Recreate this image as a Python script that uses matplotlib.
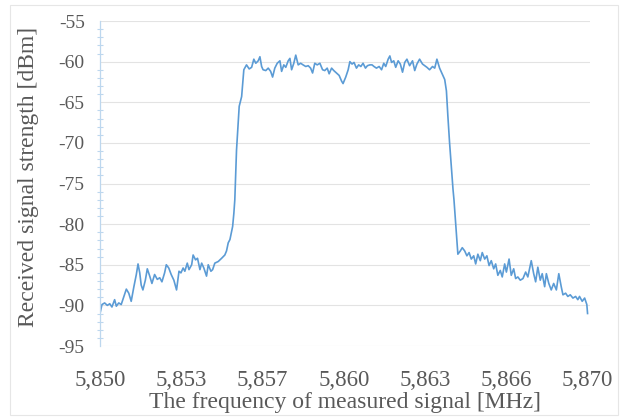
import matplotlib
matplotlib.use("Agg")
import matplotlib.pyplot as plt
from matplotlib.patches import Rectangle
from matplotlib.ticker import MultipleLocator
import numpy as np

# measured spectrum
freq_mhz = [
    5850.00, 5850.08, 5850.19, 5850.30, 5850.40, 5850.49, 5850.60, 5850.67, 5850.77, 5850.87,
    5850.98, 5851.08, 5851.18, 5851.28, 5851.39, 5851.49, 5851.56, 5851.63, 5851.69, 5851.76,
    5851.86, 5851.94, 5852.04, 5852.13, 5852.24, 5852.35, 5852.45, 5852.54, 5852.65, 5852.72,
    5852.82, 5852.92, 5853.03, 5853.14, 5853.24, 5853.32, 5853.41, 5853.48, 5853.58, 5853.65,
    5853.76, 5853.82, 5853.92, 5854.00, 5854.10, 5854.17, 5854.26, 5854.37, 5854.44, 5854.55,
    5854.62, 5854.71, 5854.85, 5854.99, 5855.12, 5855.19, 5855.26, 5855.33, 5855.44, 5855.49,
    5855.53, 5855.60, 5855.71, 5855.81, 5855.90, 5856.01, 5856.12, 5856.22, 5856.31, 5856.39,
    5856.49, 5856.56, 5856.63, 5856.69, 5856.80, 5856.90, 5857.00, 5857.08, 5857.17, 5857.27,
    5857.38, 5857.45, 5857.54, 5857.62, 5857.72, 5857.79, 5857.86, 5857.95, 5858.03, 5858.13,
    5858.23, 5858.33, 5858.44, 5858.54, 5858.64, 5858.72, 5858.81, 5858.91, 5859.02, 5859.13,
    5859.22, 5859.32, 5859.40, 5859.50, 5859.59, 5859.70, 5859.81, 5859.91, 5859.97, 5860.08,
    5860.18, 5860.25, 5860.34, 5860.42, 5860.52, 5860.61, 5860.70, 5860.79, 5860.89, 5860.97,
    5861.07, 5861.16, 5861.24, 5861.34, 5861.45, 5861.55, 5861.64, 5861.72, 5861.82, 5861.89,
    5861.96, 5862.05, 5862.13, 5862.23, 5862.32, 5862.41, 5862.50, 5862.59, 5862.70, 5862.82,
    5862.91, 5863.00, 5863.11, 5863.23, 5863.32, 5863.41, 5863.52, 5863.64, 5863.73, 5863.82,
    5863.93, 5864.05, 5864.14, 5864.21, 5864.27, 5864.34, 5864.41, 5864.48, 5864.52, 5864.59,
    5864.64, 5864.68, 5864.78, 5864.86, 5864.96, 5865.05, 5865.14, 5865.23, 5865.33, 5865.41,
    5865.50, 5865.60, 5865.68, 5865.78, 5865.87, 5865.96, 5866.05, 5866.15, 5866.23, 5866.32,
    5866.42, 5866.50, 5866.60, 5866.67, 5866.78, 5866.87, 5866.97, 5867.05, 5867.14, 5867.24,
    5867.35, 5867.46, 5867.55, 5867.62, 5867.69, 5867.79, 5867.87, 5867.96, 5868.06, 5868.14,
    5868.24, 5868.31, 5868.41, 5868.51, 5868.61, 5868.72, 5868.82, 5868.92, 5868.99, 5869.10,
    5869.19, 5869.29, 5869.40, 5869.51, 5869.60, 5869.67, 5869.78, 5869.88, 5869.97, 5870.00,
]

rssi_dbm = [
    -91.0, -89.9, -89.7, -90.0, -89.8, -90.2, -89.3, -90.1, -89.7, -89.9,
    -88.9, -88.0, -88.5, -89.5, -87.7, -86.2, -84.9, -86.0, -87.5, -88.1,
    -86.9, -85.5, -86.4, -87.3, -86.2, -86.8, -86.6, -87.1, -86.0, -85.0,
    -85.4, -86.2, -86.9, -88.1, -85.8, -86.0, -85.4, -85.8, -84.8, -85.6,
    -85.0, -83.8, -84.4, -84.2, -85.6, -84.8, -85.4, -86.4, -85.0, -85.8,
    -85.6, -84.8, -84.6, -84.2, -83.8, -83.3, -82.3, -81.9, -80.3, -78.7,
    -77.0, -70.9, -65.5, -64.3, -61.0, -60.4, -60.9, -60.7, -59.7, -60.2,
    -59.9, -59.4, -60.6, -61.0, -61.1, -60.8, -61.2, -61.9, -60.8, -60.2,
    -59.9, -61.2, -60.4, -60.7, -59.9, -59.6, -61.0, -60.2, -59.2, -60.4,
    -60.2, -60.4, -60.6, -60.5, -60.8, -61.4, -60.2, -60.4, -60.2, -61.0,
    -61.1, -60.8, -61.5, -60.8, -61.1, -61.4, -61.7, -62.4, -62.7, -61.9,
    -61.0, -60.0, -60.3, -60.1, -60.8, -60.4, -60.6, -60.2, -60.8, -60.5,
    -60.4, -60.4, -60.6, -60.8, -60.6, -61.0, -60.2, -60.6, -59.7, -59.3,
    -60.1, -59.9, -60.7, -59.9, -60.3, -61.3, -60.1, -59.7, -60.5, -59.9,
    -61.1, -60.3, -59.7, -60.3, -60.5, -60.7, -61.0, -60.6, -60.8, -59.7,
    -60.8, -61.6, -62.2, -63.6, -66.7, -70.0, -72.8, -75.7, -77.0, -80.0,
    -82.3, -83.7, -83.3, -82.9, -83.3, -83.9, -83.5, -84.3, -83.9, -84.9,
    -83.7, -84.5, -83.5, -84.3, -83.9, -85.1, -84.5, -85.5, -84.9, -86.3,
    -85.7, -86.5, -84.9, -85.9, -84.3, -86.3, -85.5, -86.7, -86.5, -86.9,
    -86.7, -85.9, -86.5, -85.5, -84.5, -86.1, -87.1, -85.3, -86.9, -86.1,
    -87.7, -86.1, -87.3, -88.1, -87.3, -88.1, -86.1, -87.7, -88.7, -88.5,
    -88.9, -88.7, -89.1, -88.9, -89.3, -88.9, -89.5, -89.1, -89.9, -91.0,
]

x_tick_labels = ["5,850", "5,853", "5,857", "5,860", "5,863", "5,866", "5,870"]
y_ticks = [-95, -90, -85, -80, -75, -70, -65, -60, -55]

text_col = "#595959"
plt.rcParams["font.family"] = ["Liberation Serif", "DejaVu Serif"]

fig = plt.figure(figsize=(6.24, 4.19), dpi=100)
ax = fig.add_axes([100 / 624, 1 - 346 / 419, 490 / 624, 325 / 419])

# thin chart-area frame like the Excel export
fig.patches.append(Rectangle((10 / 624, 4 / 419), 608 / 624, 410 / 419,
                             transform=fig.transFigure, fill=False,
                             edgecolor="#E6E6E6", linewidth=0.8))

ax.plot(freq_mhz, rssi_dbm, color="#5B9BD5", linewidth=1.2)

ax.set_xlim(5850, 5870.1)
ax.set_ylim(-95, -55)
ax.set_xticks(np.linspace(5850, 5870, len(x_tick_labels)))
ax.set_xticklabels(x_tick_labels)
ax.set_yticks(y_ticks)
ax.set_yticklabels([str(v) for v in y_ticks])
ax.yaxis.set_minor_locator(MultipleLocator(1))

ax.grid(True, axis="y", which="major", color="#E3E3E3", linewidth=0.8)
ax.set_axisbelow(True)
for s in ["top", "right", "bottom"]:
    ax.spines[s].set_visible(False)
ax.spines["left"].set_color("#BDD7EE")
ax.spines["left"].set_linewidth(0.9)

ax.tick_params(axis="x", length=0, pad=17, labelsize=16.5, labelcolor=text_col)
ax.tick_params(axis="y", which="major", length=0, pad=11, labelsize=14, labelcolor=text_col)
ax.tick_params(axis="y", which="minor", direction="inout", length=5,
               color="#BDD7EE", width=0.8)

ax.set_xlabel("The frequency of measured signal [MHz]", fontsize=17,
              color=text_col, labelpad=1)
ax.set_ylabel("Received signal strength [dBm]", fontsize=17,
              color=text_col, labelpad=15)
ax.yaxis.set_label_coords(-0.125, 0.52)

fig.savefig("out.png", dpi=100)
